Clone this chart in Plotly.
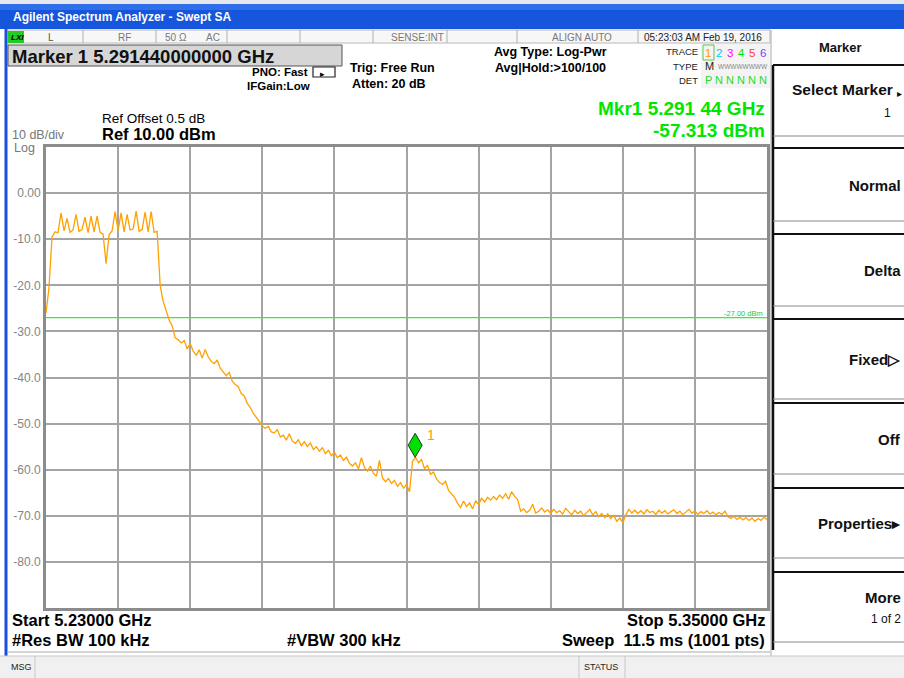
import plotly.graph_objects as go

# ---------------- data ----------------
START_GHZ = 5.230
STOP_GHZ = 5.350
STEP_GHZ = 0.0005
LEVELS_DBM = [
    -26.0, -20.5, -9.5, -8.4, -8.6, -4.3, -8.2, -5.5, -8.5, -8.0,
    -4.6, -8.3, -7.9, -5.2, -8.6, -5.0, -8.4, -5.0, -8.5, -8.9,
    -15.3, -9.0, -8.2, -4.0, -8.1, -4.3, -8.4, -4.6, -8.0, -7.8,
    -3.9, -8.3, -7.9, -4.1, -8.4, -4.0, -8.5, -8.3, -20.0, -23.5,
    -25.5, -27.5, -28.8, -31.4, -31.8, -32.5, -32.0, -33.8, -32.6, -34.3,
    -35.2, -34.0, -35.8, -33.9, -35.5, -36.5, -37.0, -36.2, -38.0, -38.8,
    -39.6, -38.9, -40.8, -41.5, -42.0, -43.5, -44.0, -45.6, -46.5, -47.8,
    -48.6, -49.5, -50.5, -51.0, -50.6, -51.8, -52.0, -51.3, -52.9, -52.5,
    -53.6, -52.2, -53.8, -54.3, -53.5, -54.8, -53.9, -55.0, -54.2, -55.6,
    -55.0, -56.0, -55.2, -56.5, -55.8, -57.0, -56.2, -57.4, -56.8, -58.0,
    -57.3, -58.6, -59.2, -58.5, -59.8, -57.4, -59.5, -60.3, -59.2, -60.8,
    -61.4, -58.0, -61.8, -62.6, -61.9, -63.0, -62.3, -63.6, -62.8, -64.0,
    -63.2, -64.8, -58.2, -57.3, -58.5, -57.8, -59.8, -59.0, -61.0, -60.5,
    -62.0, -62.8, -63.2, -62.5, -64.5, -65.2, -66.0, -67.3, -68.2, -66.8,
    -68.0, -67.2, -68.5, -66.8, -67.5, -66.2, -67.0, -66.0, -66.6, -65.8,
    -66.5, -65.5, -66.2, -65.2, -66.4, -64.8, -65.8, -66.5, -69.0, -68.5,
    -69.3, -68.8, -67.5, -69.4, -69.0, -68.3, -69.2, -68.7, -69.5, -68.6,
    -69.3, -68.9, -69.6, -68.4, -69.2, -69.8, -68.8, -69.5, -69.0, -70.0,
    -69.3, -68.6, -69.8, -69.1, -70.2, -69.5, -70.4, -69.6, -70.6, -69.9,
    -71.2, -70.5, -71.5, -69.8, -68.6, -69.4, -68.8, -69.5, -68.9, -69.6,
    -68.7, -69.3, -69.0, -69.7, -68.8, -69.4, -68.9, -69.6, -69.1, -68.7,
    -69.5, -69.0, -69.8, -69.2, -68.6, -69.4, -69.0, -69.7, -69.1, -69.5,
    -68.9, -69.6, -69.2, -69.8, -69.3, -69.7, -69.0, -70.2, -70.6, -70.1,
    -70.8, -70.3, -70.9, -70.4, -71.0, -70.5, -71.2, -70.6, -71.0, -70.3,
    -70.8,
]
REF_LEVEL = 10.0
BOTTOM_LEVEL = -90.0
Y_TICK_VALUES = [0, -10, -20, -30, -40, -50, -60, -70, -80]
Y_TICK_LABELS = ["0.00", "-10.0", "-20.0", "-30.0", "-40.0", "-50.0", "-60.0", "-70.0", "-80.0"]
X_DIV_GHZ = 0.012
DISPLAY_LINE_DBM = -27.0
MKR_FREQ_GHZ = 5.29144
MKR_LEVEL_DBM = -57.313
SOFTKEYS = ["Normal", "Delta", "Fixed\u25B7", "Off", "Properties\u25B8"]

W, H = 904, 678
FONT = "Liberation Sans, Arial, sans-serif"


def X(px):
    return px / W


def Y(py):
    return 1 - py / H


shapes = []
annotations = []


def rect(x0, y0, x1, y1, fill=None, line=None, lw=0):
    shapes.append(dict(type="rect", xref="paper", yref="paper",
                       x0=X(x0), x1=X(x1), y0=Y(y1), y1=Y(y0),
                       fillcolor=fill if fill else "rgba(0,0,0,0)",
                       line=dict(color=line if line else "rgba(0,0,0,0)", width=lw),
                       layer="below"))


def hline(x0, x1, y, color, w=1):
    shapes.append(dict(type="line", xref="paper", yref="paper",
                       x0=X(x0), x1=X(x1), y0=Y(y), y1=Y(y),
                       line=dict(color=color, width=w)))


def vline(x, y0, y1, color, w=1):
    shapes.append(dict(type="line", xref="paper", yref="paper",
                       x0=X(x), x1=X(x), y0=Y(y0), y1=Y(y1),
                       line=dict(color=color, width=w)))


def txt(text, x, y, size=12, color="#000", bold=False, anchor="left", family=FONT):
    annotations.append(dict(text=f"<b>{text}</b>" if bold else text,
                            xref="paper", yref="paper", x=X(x), y=Y(y),
                            xanchor=anchor, yanchor="middle", showarrow=False,
                            font=dict(family=family, size=size, color=color)))


# ---- window chrome ----
rect(0, 0, 904, 4, fill="#E6E8EE")
rect(0, 4, 904, 29, fill="#1556DD")
rect(0, 4, 904, 10, fill="#2F6FEA")
txt("Agilent Spectrum Analyzer - Swept SA", 11, 17, 12, "white", True)
vline(6, 29, 656, "#1A4FE0", 3)

# status row
rect(8, 30, 770, 43, fill="#F7F7F7", line="#B8B8B8", lw=1)
for xd in [83, 156, 227, 300, 373, 447, 517, 638]:
    vline(xd, 30, 43, "#B0B0B0", 1)
rect(8, 31, 24, 43, fill="#22CC22")
txt("<i>LXI</i>", 9, 37, 8, "#000", True)
txt("L", 46, 37, 10, "#555")
txt("RF", 116, 37, 10, "#777")
txt("50 \u03A9", 163, 37, 10, "#777")
txt("AC", 204, 37, 10, "#777")
txt("SENSE:INT", 446, 37, 10, "#777", anchor="right")
txt("ALIGN AUTO", 582, 37, 10, "#777", anchor="center")
txt("05:23:03 AM Feb 19, 2016", 703, 37, 10, "#222", anchor="center")

# marker header box
rect(8, 45, 342, 66, fill="#D6D6D6", line="#555", lw=1)
txt("Marker 1 5.291440000000 GHz", 10, 56, 18.5, "#111", True)

txt("PNO: Fast", 250, 72, 11.5, "#000", True)
txt("IFGain:Low", 245, 86, 11.5, "#000", True)
shapes.append(dict(type="rect", xref="paper", yref="paper", x0=X(313), x1=X(335),
                   y0=Y(77), y1=Y(67), line=dict(color="#222", width=1.2)))
txt("\u25B8", 318, 74, 9, "#000")
txt("Trig: Free Run", 348, 68, 12.5, "#000", True)
txt("Atten: 20 dB", 350, 84, 12.5, "#000", True)
txt("Avg Type: Log-Pwr", 550, 52, 12.5, "#000", True, anchor="center")
txt("Avg|Hold:>100/100", 550, 68, 12.5, "#000", True, anchor="center")

# trace status block
rect(701, 44, 770, 88, fill="#F4F4F4")
txt("TRACE", 700, 52, 9.5, "#222", anchor="right")
txt("TYPE", 700, 66, 9.5, "#222", anchor="right")
txt("DET", 700, 80, 9.5, "#222", anchor="right")
digit_colors = ["#FF9900", "#00C8FF", "#FF00FF", "#00DD00", "#FF3366", "#7744FF"]
digit_x = [708, 719, 730, 741, 752, 763]
rect(703, 45, 714, 60, line="#55CC55", lw=1)
for i, (c, xx) in enumerate(zip(digit_colors, digit_x)):
    txt(str(i + 1), xx, 53, 11.5, c, anchor="center")
txt("M", 703, 66, 11, "#222")
txt("WWWWWWWW", 716, 66, 6.5, "#888")
for i, xx in enumerate(digit_x):
    txt("P" if i == 0 else "N", xx, 80, 11, "#22DD22", anchor="center")

# ---- softkey panel ----
vline(771, 30, 656, "#AAAAAA", 1)
vline(773, 65, 650, "#111", 2.5)
txt("Marker", 840, 47, 13, "#111", True, anchor="center")
buttons = [(65, 136), (148, 221), (234, 306), (319, 399), (403, 474), (488, 558), (572, 642)]
for (t, b) in buttons:
    hline(773, 904, t, "#111", 2)
    hline(773, 904, b, "#888", 1)
txt("Select Marker", 895, 90, 15.5, "#111", True, anchor="right")
txt("\u25B8", 904, 93, 10, "#111", anchor="right")
txt("1", 893, 113, 12, "#111", anchor="right")
for label, (t, b) in zip(SOFTKEYS, buttons[1:6]):
    txt(label, 903, (t + b) / 2 + 0.5, 15, "#111", True, anchor="right")
txt("More", 903, 597, 15, "#111", True, anchor="right")
txt("1 of 2", 903, 619, 12, "#111", anchor="right")

# ---- graticule annotations ----
txt("Ref Offset 0.5 dB", 100, 118, 13.5, "#000")
txt("Ref 10.00 dBm", 100, 134, 16.5, "#000", True)
txt("10 dB/div", 10, 135, 12.5, "#777")
txt("Log", 12, 148, 12.5, "#777")
txt("Mkr1 5.291 44 GHz", 767, 108, 19, "#00E600", True, anchor="right")
txt("-57.313 dBm", 767, 130, 19, "#00E600", True, anchor="right")
txt("-27.00 dBm", 765, 313, 7.5, "#22CC22", anchor="right")
txt("1", 425, 435, 14, "#FF9900")

# bottom
txt("Start 5.23000 GHz", 10, 620, 16.5, "#000", True)
txt("#Res BW 100 kHz", 10, 640, 16.5, "#000", True)
txt("#VBW 300 kHz", 285, 640, 16.5, "#000", True)
txt("Stop 5.35000 GHz", 767, 620, 16.5, "#000", True, anchor="right")
txt("Sweep  11.5 ms (1001 pts)", 767, 640, 16.5, "#000", True, anchor="right")
hline(8, 770, 652, "#AAAAAA", 1)
rect(0, 656, 904, 678, fill="#F0F0F0")
hline(0, 904, 656, "#C8C8C8", 1)
vline(35, 656, 678, "#C8C8C8", 1)
vline(579, 656, 678, "#C8C8C8", 1)
vline(625, 656, 678, "#C8C8C8", 1)
txt("MSG", 9, 667, 9, "#222")
txt("STATUS", 582, 667, 9, "#222")

# marker diamond anchored at the marker reading
shapes.append(dict(type="path", xref="x", yref="y", xsizemode="pixel", ysizemode="pixel",
                   xanchor=MKR_FREQ_GHZ, yanchor=MKR_LEVEL_DBM,
                   path="M0,0 L7,12 L0,24 L-7,12 Z",
                   fillcolor="#00E000", line=dict(color="#1E3A1E", width=1)))

fig = go.Figure()
fig.add_trace(go.Scatter(x=[START_GHZ, STOP_GHZ], y=[DISPLAY_LINE_DBM, DISPLAY_LINE_DBM],
                         mode="lines", line=dict(color="#33EE33", width=1.2),
                         hoverinfo="skip", showlegend=False))
fig.add_trace(go.Scatter(x0=START_GHZ, dx=STEP_GHZ, y=LEVELS_DBM, mode="lines",
                         line=dict(color="#FFA000", width=1.3), showlegend=False))

fig.update_layout(
    width=W, height=H, autosize=False,
    margin=dict(l=0, r=0, t=0, b=0),
    paper_bgcolor="white", plot_bgcolor="white",
    font=dict(family=FONT),
    showlegend=False,
    shapes=shapes, annotations=annotations,
    xaxis=dict(domain=[X(46), X(767)], range=[START_GHZ, STOP_GHZ],
               tick0=START_GHZ, dtick=X_DIV_GHZ, showticklabels=False, ticks="",
               showgrid=True, gridcolor="#A4A4A4", gridwidth=2, zeroline=False,
               showline=True, mirror=True, linecolor="#8C8C8C", linewidth=3),
    yaxis=dict(domain=[Y(608), Y(147)], range=[BOTTOM_LEVEL, REF_LEVEL],
               tickvals=Y_TICK_VALUES, ticktext=Y_TICK_LABELS, ticks="",
               tickfont=dict(family=FONT, size=12, color="#858585"),
               showgrid=True, gridcolor="#A4A4A4", gridwidth=2, zeroline=False,
               showline=True, mirror=True, linecolor="#8C8C8C", linewidth=3),
)

fig.write_html("out.html", config={"displayModeBar": False},
               post_script="document.body.style.margin='0';")
